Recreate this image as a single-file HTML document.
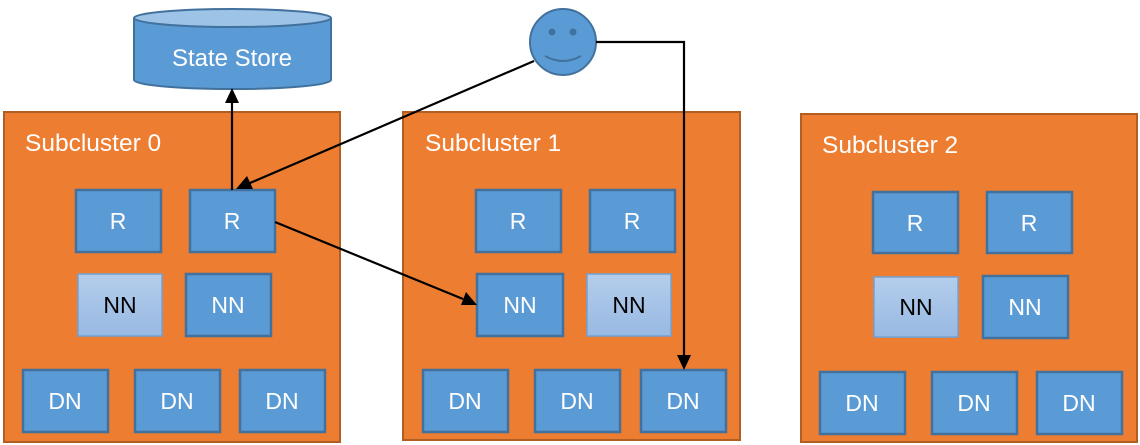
<!DOCTYPE html>
<html><head><meta charset="utf-8"><style>
html,body{margin:0;padding:0;background:#fff;}
svg{display:block;font-family:"Liberation Sans",sans-serif;}
.sc{fill:#ED7D31;stroke:#B05E24;stroke-width:2;}
.b{fill:#5B9BD5;stroke:#41719C;stroke-width:2.5;}
.l{fill:url(#g);stroke:#6FA2D8;stroke-width:1.5;}
.t{fill:#fff;font-size:23px;text-anchor:middle;}
.k{fill:#000;font-size:23px;text-anchor:middle;}
.h{fill:#fff;font-size:24.5px;}
</style></head><body>
<svg width="1140" height="445" viewBox="0 0 1140 445">
<defs>
<linearGradient id="g" x1="0" y1="0" x2="0" y2="1"><stop offset="0" stop-color="#B4CDEB"/><stop offset="1" stop-color="#98B9E3"/></linearGradient>
</defs>
<!-- cylinder -->
<path d="M134,18 L134,80 A98,9 0 0 0 331,80 L331,18" fill="#5B9BD5" stroke="#41719C" stroke-width="2"/>
<ellipse cx="232.5" cy="18" rx="98.5" ry="9" fill="#9DC3E6" stroke="#41719C" stroke-width="2"/>
<text x="232" y="66" class="t" style="font-size:24px">State Store</text>
<!-- smiley -->
<circle cx="563" cy="42" r="33" fill="#5B9BD5" stroke="#41719C" stroke-width="2"/>
<circle cx="552" cy="32" r="3.5" fill="#41719C"/><circle cx="573" cy="32" r="3.5" fill="#41719C"/>
<path d="M545,56 Q563,66 581,56" fill="none" stroke="#41719C" stroke-width="2"/>
<!-- subclusters -->
<rect class="sc" x="4" y="112" width="336" height="330"/>
<rect class="sc" x="403" y="112" width="337" height="328"/>
<rect class="sc" x="801" y="114" width="336" height="328"/>
<text class="h" x="25" y="151">Subcluster 0</text>
<text class="h" x="425" y="151">Subcluster 1</text>
<text class="h" x="822" y="153">Subcluster 2</text>
<!-- SC0 -->
<rect class="b" x="76" y="190" width="85" height="62"/><text class="t" x="118" y="229">R</text>
<rect class="b" x="190" y="190" width="85" height="62"/><text class="t" x="232" y="229">R</text>
<rect class="l" x="78" y="274" width="84" height="62"/><text class="k" x="120" y="313">NN</text>
<rect class="b" x="186" y="274" width="85" height="62"/><text class="t" x="228" y="313">NN</text>
<rect class="b" x="23" y="370" width="85" height="62"/><text class="t" x="65" y="409">DN</text>
<rect class="b" x="135" y="370" width="85" height="62"/><text class="t" x="177" y="409">DN</text>
<rect class="b" x="240" y="370" width="85" height="62"/><text class="t" x="282" y="409">DN</text>
<!-- SC1 -->
<rect class="b" x="476" y="190" width="85" height="62"/><text class="t" x="518" y="229">R</text>
<rect class="b" x="590" y="190" width="85" height="62"/><text class="t" x="632" y="229">R</text>
<rect class="b" x="477" y="274" width="86" height="62"/><text class="t" x="520" y="313">NN</text>
<rect class="l" x="587" y="274" width="84" height="62"/><text class="k" x="629" y="313">NN</text>
<rect class="b" x="423" y="370" width="85" height="62"/><text class="t" x="465" y="409">DN</text>
<rect class="b" x="535" y="370" width="85" height="62"/><text class="t" x="577" y="409">DN</text>
<rect class="b" x="641" y="370" width="85" height="62"/><text class="t" x="683" y="409">DN</text>
<!-- SC2 -->
<rect class="b" x="873" y="192" width="85" height="61"/><text class="t" x="915" y="231">R</text>
<rect class="b" x="987" y="192" width="85" height="61"/><text class="t" x="1029" y="231">R</text>
<rect class="l" x="874" y="277" width="84" height="60"/><text class="k" x="916" y="315">NN</text>
<rect class="b" x="983" y="276" width="85" height="62"/><text class="t" x="1025" y="315">NN</text>
<rect class="b" x="820" y="372" width="85" height="62"/><text class="t" x="862" y="411">DN</text>
<rect class="b" x="932" y="372" width="85" height="62"/><text class="t" x="974" y="411">DN</text>
<rect class="b" x="1037" y="372" width="85" height="62"/><text class="t" x="1079" y="411">DN</text>
<!-- connectors -->
<g stroke="#000" stroke-width="2.2" fill="none">
<line x1="232" y1="190" x2="232" y2="100"/>
<line x1="534" y1="61" x2="250" y2="183"/>
<line x1="275" y1="222" x2="463" y2="299"/>
<polyline points="596,42 684,42 684,356"/>
</g>
<g fill="#000">
<polygon points="232,88 225,103 239,103"/>
<polygon points="236,189 247,176 253,189"/>
<polygon points="477,305 461,305 466,292"/>
<polygon points="684,370 677,355 691,355"/>
</g>
</svg>
</body></html>
